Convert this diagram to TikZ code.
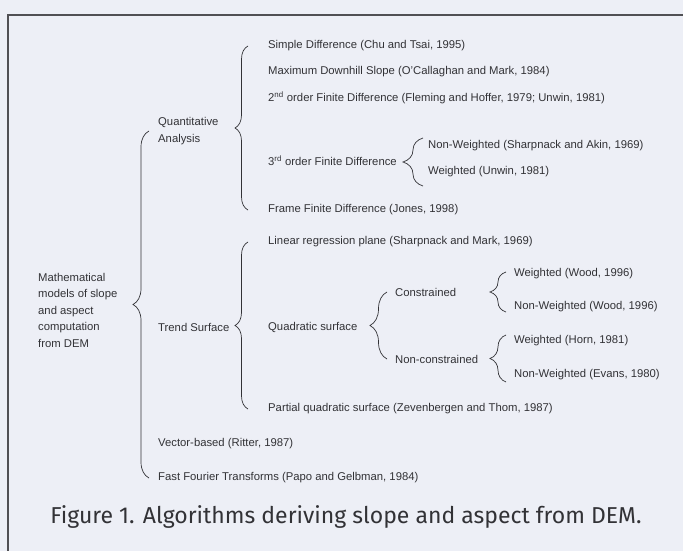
\documentclass[tikz,border=0pt]{standalone}
\usepackage{fontspec}
\setmainfont{Liberation Sans}
\newfontfamily\capfont{Fira Sans}
\usetikzlibrary{decorations.pathreplacing}
\definecolor{paper}{RGB}{237,239,246}
\definecolor{ink}{RGB}{50,50,54}
\definecolor{rule}{RGB}{80,80,84}
\tikzset{
  leaf/.style={anchor=west, inner sep=0pt, text=ink, font=\fontsize{11.3}{16.5}\selectfont},
  curly/.style={decorate, decoration={brace, amplitude=#1}, draw=ink, line width=0.7pt},
  curly/.default=13pt,
}

\begin{document}
\begin{tikzpicture}[x=1pt,y=-1pt]
\useasboundingbox (0,0) rectangle (683,551);
\fill[paper] (0,0) rectangle (683,551);
\draw[rule,line width=1.3pt] (8,551)--(8,15)--(683,15);
\node[leaf,align=left] (root) at (38,310) {Mathematical\\models of slope\\and aspect\\computation\\from DEM};
\node[leaf,align=left] (quant) at (158,131) {Quantitative\\Analysis};
\node[leaf] (trend) at (158,327) {Trend Surface};
\node[leaf] (vector) at (158,444) {Vector-based (Ritter, 1987)};
\node[leaf] (fft) at (158,478) {Fast Fourier Transforms (Papo and Gelbman, 1984)};
\node[leaf] (simple) at (268,46) {Simple Difference (Chu and Tsai, 1995)};
\node[leaf] (maxdown) at (268,72) {Maximum Downhill Slope (O'Callaghan and Mark, 1984)};
\node[leaf] (second) at (268,98) {2\textsuperscript{nd} order Finite Difference (Fleming and Hoffer, 1979; Unwin, 1981)};
\node[leaf] (third) at (268,161) {3\textsuperscript{rd} order Finite Difference};
\node[leaf] (nwakin) at (428,146) {Non-Weighted (Sharpnack and Akin, 1969)};
\node[leaf] (wunwin) at (428,172) {Weighted (Unwin, 1981)};
\node[leaf] (frame) at (268,210) {Frame Finite Difference (Jones, 1998)};
\node[leaf] (linear) at (268,242) {Linear regression plane (Sharpnack and Mark, 1969)};
\node[leaf] (quad) at (268,327) {Quadratic surface};
\node[leaf] (constr) at (395,292) {Constrained};
\node[leaf] (noncon) at (395,359) {Non-constrained};
\node[leaf] (wwood) at (514,274) {Weighted (Wood, 1996)};
\node[leaf] (nwwood) at (514,307) {Non-Weighted (Wood, 1996)};
\node[leaf] (whorn) at (514,341) {Weighted (Horn, 1981)};
\node[leaf] (nwevans) at (514,375) {Non-Weighted (Evans, 1980)};
\node[leaf] (partial) at (268,409) {Partial quadratic surface (Zevenbergen and Thom, 1987)};
\draw[curly=16pt] ([xshift=-9pt]fft.west)--([xshift=-9pt]quant.west);
\draw[curly] ([xshift=-20pt]frame.west)--([xshift=-20pt]simple.west);
\draw[curly] ([xshift=-20pt]partial.west)--([xshift=-20pt]linear.west);
\draw[curly=20pt] ([xshift=-5pt,yshift=-14pt]wunwin.west)--([xshift=-5pt,yshift=8pt]nwakin.west);
\draw[curly=17pt] ([xshift=-8pt]noncon.west)--([xshift=-8pt]constr.west);
\draw[curly=16pt] ([xshift=-8pt,yshift=-5pt]nwwood.west)--([xshift=-8pt,yshift=2pt]wwood.west);
\draw[curly=16pt] ([xshift=-8pt,yshift=-7pt]nwevans.west)--([xshift=-8pt,yshift=6pt]whorn.west);
\node[font=\capfont\fontsize{23}{23}\selectfont,text=ink] (caption) at (346,517) {Figure 1. Algorithms deriving slope and aspect from DEM.};
\end{tikzpicture}
\end{document}
